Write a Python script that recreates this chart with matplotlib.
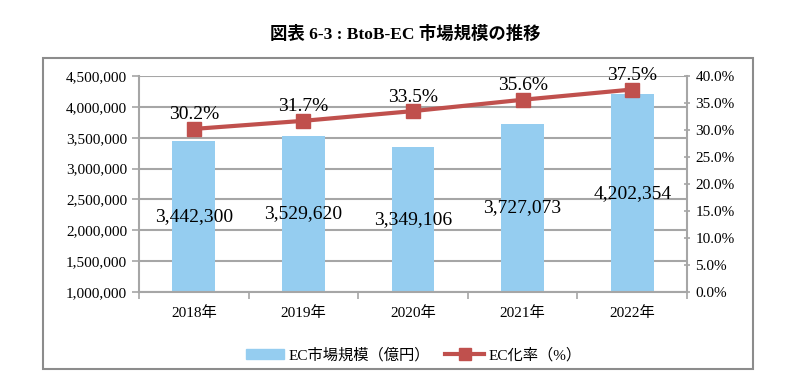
import numpy as np
import matplotlib.pyplot as plt
from matplotlib.patches import Rectangle
from matplotlib.lines import Line2D
from matplotlib.patches import Patch

plt.rcParams['font.family'] = ['Liberation Serif', 'Noto Sans CJK JP']

# データ
years = ['2018年', '2019年', '2020年', '2021年', '2022年']
market_size = [3442300, 3529620, 3349106, 3727073, 4202354]
ec_rate = [30.2, 31.7, 33.5, 35.6, 37.5]

bar_color = '#95CDF0'
line_color = '#C0504D'
grid_color = '#A6A6A6'

fig = plt.figure(figsize=(8.11, 3.89), dpi=100)

# 外枠
fig.patches.append(Rectangle((43 / 811, 1 - 369 / 389), (753 - 43) / 811, (369 - 58) / 389,
                             transform=fig.transFigure, fill=False,
                             edgecolor='#8C8C8C', linewidth=1.5, zorder=0))

fig.text(0.5, 1 - 34 / 389, '図表 6-3 : BtoB-EC 市場規模の推移', ha='center', va='center',
         fontsize=12.5, fontweight='bold')

ax = fig.add_axes([139 / 811, 1 - 292 / 389, (687 - 139) / 811, (292 - 76) / 389])
x = np.arange(len(years))

ax.bar(x, market_size, width=0.39, color=bar_color, zorder=2)
ax.set_ylim(1000000, 4500000)
ax.set_xlim(-0.5, len(years) - 0.5)
ax.set_yticks(np.arange(1000000, 4500001, 500000))
ax.yaxis.set_major_formatter(plt.FuncFormatter(lambda v, p: f'{int(v):,}'))
ax.grid(axis='y', color=grid_color, linewidth=1.5, zorder=0)
ax.set_axisbelow(True)

for xi, v in zip(x, market_size):
    ax.text(xi, (1000000 + v) / 2, f'{v:,}', ha='center', va='center', fontsize=14, zorder=5)

ax.set_xticks(x)
ax.set_xticklabels(years, fontsize=11)
ax.set_xticks(np.arange(-0.5, len(years)), minor=True)
ax.tick_params(axis='x', which='major', length=0, pad=10)
ax.tick_params(axis='x', which='minor', length=5, color=grid_color, width=1.2)
ax.tick_params(axis='y', length=5, color=grid_color, width=1.2, labelsize=11)

for s in ['top', 'right']:
    ax.spines[s].set_visible(False)
for s in ['left', 'bottom']:
    ax.spines[s].set_color(grid_color)
    ax.spines[s].set_linewidth(1.5)

# 第2軸 EC化率
ax2 = ax.twinx()
ax2.plot(x, ec_rate, color=line_color, linewidth=3, marker='s', markersize=10, zorder=4)
ax2.set_ylim(0, 40)
ax2.set_yticks(np.arange(0, 40.1, 5))
ax2.yaxis.set_major_formatter(plt.FuncFormatter(lambda v, p: f'{v:.1f}%'))
ax2.tick_params(axis='y', length=5, color=grid_color, width=1.2, labelsize=11, direction='inout')
for s in ['top', 'left', 'bottom']:
    ax2.spines[s].set_visible(False)
ax2.spines['right'].set_color(grid_color)
ax2.spines['right'].set_linewidth(1.5)

for xi, r in zip(x, ec_rate):
    ax2.annotate(f'{r:.1f}%', (xi, r), xytext=(0, 4), textcoords='offset points',
                 ha='center', va='bottom', fontsize=14)

handles = [Patch(color=bar_color),
           Line2D([], [], color=line_color, linewidth=3, marker='s', markersize=8)]
fig.legend(handles, ['EC市場規模（億円）', 'EC化率（%）'], loc='center',
           bbox_to_anchor=(0.51, 1 - 355 / 389), ncol=2, frameon=False, fontsize=11,
           handlelength=2.5, columnspacing=1.0, handletextpad=0.3)

plt.savefig('out.png', dpi=100)
plt.close()
